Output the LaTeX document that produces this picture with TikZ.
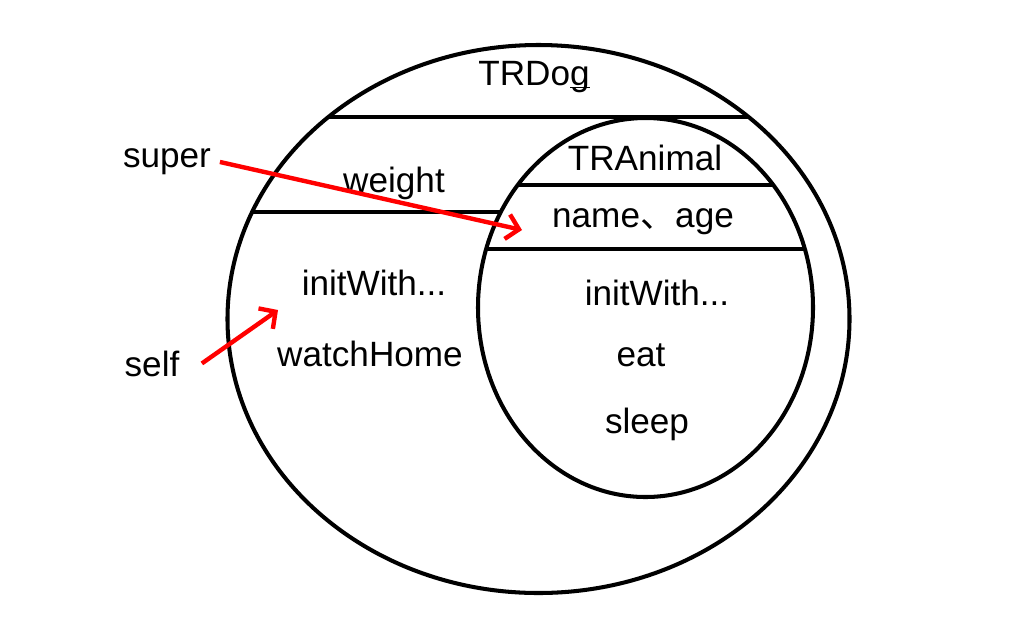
\documentclass[tikz,border=0pt]{standalone}
\usepackage{fontspec}
\setmainfont{Liberation Sans}
\newfontfamily\cjk{Noto Sans CJK SC}
\usetikzlibrary{arrows.meta}

\tikzset{
  txt/.style={font=\fontsize{20}{24}\selectfont, inner sep=2pt, anchor=base},
  redarrow/.style={draw=red, line width=2.5pt, -{Straight Barb[length=2.4mm,width=5mm]}}
}

\begin{document}
\begin{tikzpicture}[x=0.02cm, y=-0.02cm, line width=2.3pt]
  \useasboundingbox (0,0) rectangle (1024,640);
  % the two objects
  \draw (538.5,319) ellipse [x radius=311, y radius=274];
  \draw (645.5,307.5) ellipse [x radius=167.5, y radius=189.5];
  \draw (328,117) -- (749,117);
  \draw (252,212) -- (501,212);
  \draw (518,185) -- (773,185);
  \draw (486,249) -- (805,249);
  % TRDog
  \node[txt] (dog) at (534,85) {TRDog};
  \draw[line width=0.8pt] (570,87.5) -- (590,87.5);
  \node[txt] (weight) at (394,192) {weight};
  \node[txt] (dinit) at (374,295) {initWith...};
  \node[txt] (watch) at (370,366) {watchHome};
  % TRAnimal
  \node[txt] (animal) at (645,170) {TRAnimal};
  \node[txt] (nameage) at (643,227) {name{\cjk 、}age};
  \node[txt] (ainit) at (657,305) {initWith...};
  \node[txt] (eat) at (641,366) {eat};
  \node[txt] (sleep) at (647,433) {sleep};
  % pointers
  \node[txt] (super) at (167,167) {super};
  \node[txt] (self) at (152,376) {self};
  \coordinate (superend) at (522,230);
  \coordinate (selfend) at (278,310);
  \draw[redarrow, shorten <=2pt] (super.east) -- (superend);
  \draw[redarrow] ([xshift=0.34cm]self.east) -- (selfend);
\end{tikzpicture}
\end{document}
